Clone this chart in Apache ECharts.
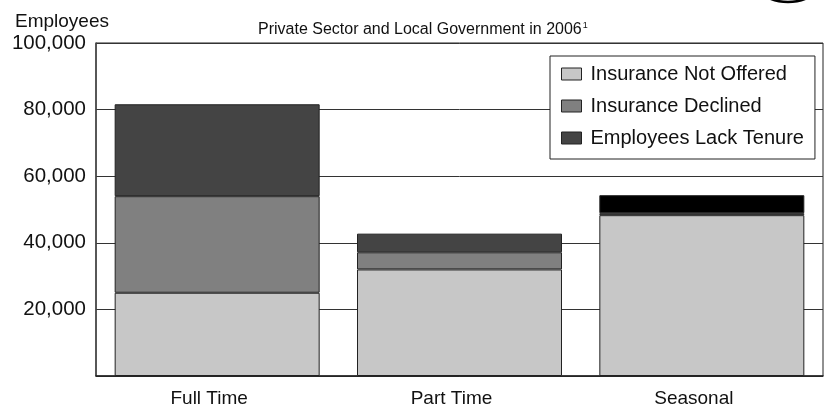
<!DOCTYPE html>
<html>
<head>
<meta charset="utf-8">
<script src="https://cdn.jsdelivr.net/npm/echarts@6/dist/echarts.min.js"></script>
<style>
html,body{margin:0;padding:0;background:#fff;}
#chart{width:827px;height:410px;}
</style>
</head>
<body>
<div id="chart"></div>
<script>
var categories = ['Full Time', 'Part Time', 'Seasonal'];
var seriesNames = ['Insurance Not Offered', 'Insurance Declined', 'Employees Lack Tenure'];
var notOffered = [25000, 32000, 48300];
var declined = [29000, 5150, 600];
var lackTenure = [27600, 5600, 5400];
var yMin = 0, yMax = 100000, yStep = 20000;

var FONT = '"Liberation Sans", Arial, sans-serif';
var colors = ['#c7c7c7', '#808080', '#444444'];

var chart = echarts.init(document.getElementById('chart'), null, {renderer: 'canvas'});

function barSeries(name, data, color, idx) {
  return {
    name: name,
    type: 'bar',
    stack: 'total',
    barWidth: 205,
    data: data.map(function (v, i) {
      var item = {value: v};
      if (idx === 2 && i === 2) item.itemStyle = {color: '#000000'};
      return item;
    }),
    itemStyle: {color: color, borderColor: '#222', borderWidth: 1},
    emphasis: {disabled: true},
    animation: false
  };
}

chart.setOption({
  animation: false,
  textStyle: {fontFamily: FONT},
  title: [
    {
      text: 'Employees',
      left: 10, top: 7,
      textStyle: {fontFamily: FONT, fontSize: 19, fontWeight: 'normal', color: '#111'}
    },
    {
      text: '{a|Private Sector and Local Government in 2006}{s|1}',
      left: 253, top: 16,
      textStyle: {
        fontFamily: FONT, fontWeight: 'normal', color: '#111',
        rich: {
          a: {fontFamily: FONT, fontSize: 16, color: '#111'},
          s: {fontFamily: FONT, fontSize: 9, color: '#111', verticalAlign: 'top', padding: [0, 0, 8, 1]}
        }
      }
    }
  ],
  legend: {
    orient: 'vertical',
    left: 550, top: 56,
    padding: [8, 11, 11, 11],
    itemGap: 12,
    itemWidth: 20, itemHeight: 12,
    icon: 'rect',
    backgroundColor: '#fff',
    borderColor: '#222', borderWidth: 1,
    textStyle: {fontFamily: FONT, fontSize: 20, color: '#111', padding: [0, 0, 0, 4]},
    data: seriesNames.map(function (n, i) {
      return {name: n, icon: 'rect', itemStyle: {color: colors[i], borderColor: '#222', borderWidth: 1}};
    })
  },
  grid: {
    left: 96, right: 4, top: 43, bottom: 34,
    show: true, borderColor: '#222', borderWidth: 1, backgroundColor: 'transparent'
  },
  xAxis: {
    type: 'category',
    data: categories,
    axisLine: {lineStyle: {color: '#222', width: 1.5}},
    axisTick: {show: false},
    axisLabel: {fontFamily: FONT, fontSize: 19, color: '#111', margin: 13, padding: [0, 16, 0, 0]}
  },
  yAxis: {
    type: 'value',
    min: yMin, max: yMax, interval: yStep,
    axisLine: {show: true, lineStyle: {color: '#444', width: 1.5}},
    axisTick: {show: false},
    splitLine: {lineStyle: {color: '#333', width: 1}},
    axisLabel: {
      fontFamily: FONT, fontSize: 20.5, color: '#111', margin: 10,
      formatter: function (v) { return v === 0 ? '' : v.toLocaleString('en-US'); }
    }
  },
  series: [
    barSeries(seriesNames[0], notOffered, colors[0], 0),
    barSeries(seriesNames[1], declined, colors[1], 1),
    barSeries(seriesNames[2], lackTenure, colors[2], 2)
  ],
  graphic: [{
    type: 'circle',
    shape: {cx: 788, cy: -45, r: 47},
    style: {fill: 'none', stroke: '#000', lineWidth: 2.5},
    silent: true
  }]
});
</script>
</body>
</html>
